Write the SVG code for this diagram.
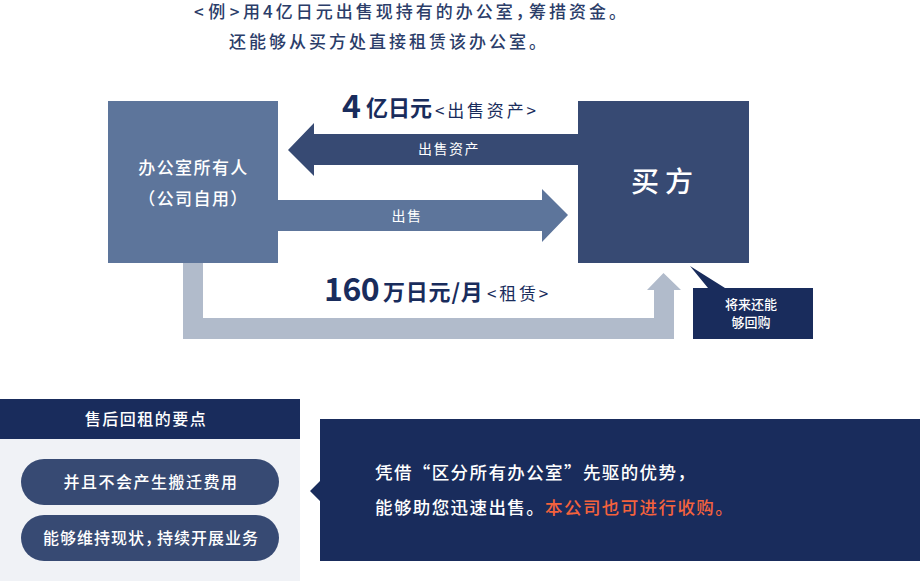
<svg xmlns="http://www.w3.org/2000/svg" width="920" height="581" viewBox="0 0 920 581">
<style>
text{font-family:"Noto Sans CJK SC","Noto Sans",sans-serif;font-weight:500}
.w{fill:#fff}.n{fill:#192c5c}.o{fill:#f4623c}
.top{font-size:17px;letter-spacing:3px;fill:#2b3d69}
.big{font-weight:700;fill:#192c5c}
.sub{font-size:17px;letter-spacing:2.800px;font-weight:400;fill:#192c5c}
.m{text-anchor:middle}
</style>
<rect width="920" height="581" fill="#fff"/>
<g id="intro">
<text class="top" x="194" y="18" style="letter-spacing:4.500px">&lt;例&gt;</text>
<text class="top" x="243" y="18">用4亿日元出售现持有的办公室，<tspan x="529">筹措资金。</tspan></text>
<text class="top" x="229" y="48">还能够从买方处直接租赁该办公室。</text>
</g>
<g id="connectors">
<path id="sell-assets" fill="#374a73" d="M578 134H314V123L288 150L314 176V165H578Z"/>
<path id="sale" fill="#5d759b" d="M278 200H542V189L568 215L542 242V231H278Z"/>
<path id="lease" fill="#b1bbcb" d="M183 263H203V318H654V290H647L663.500 273L681 290H674V339H183Z"/>
<text class="w m" x="449" y="154" font-size="14" letter-spacing="1.500" style="font-weight:400">出售资产</text>
<text class="w m" x="407" y="221" font-size="14" letter-spacing="1.500" style="font-weight:400">出售</text>
<text class="big" x="342" y="118" font-size="32">4</text>
<text class="big" x="366" y="116" font-size="22">亿日元</text>
<text class="sub" x="435" y="117">&lt;出售资产&gt;</text>
<text class="big" x="324" y="301" font-size="32" letter-spacing="-0.500">160</text>
<text class="big" x="383" y="300" font-size="22" letter-spacing="0.800">万日元/月</text>
<text class="sub" x="487" y="300">&lt;租赁&gt;</text>
</g>
<g id="owner">
<rect x="108" y="101" width="170" height="162" fill="#5d759b"/>
<text class="w m" x="193.500" y="174" font-size="17" letter-spacing="1.400">办公室所有人</text>
<text class="w m" x="193.500" y="205" font-size="17" letter-spacing="1.400">（公司自用）</text>
</g>
<g id="buyer">
<rect x="578" y="101" width="171" height="162" fill="#374a73"/>
<text class="w m" x="665" y="192" font-size="28" letter-spacing="6">买方</text>
</g>
<g id="note">
<path fill="#192c5c" d="M690 266L725 288H813V339H693V288H708Z"/>
<text class="w m" x="751" y="309" font-size="13">将来还能</text>
<text class="w m" x="751" y="327" font-size="13">够回购</text>
</g>
<g id="points">
<rect x="0" y="439" width="300" height="142" fill="#f0f2f6"/>
<rect x="0" y="399" width="300" height="40" fill="#192c5c"/>
<text class="w m" x="146" y="425" font-size="16" letter-spacing="1.500">售后回租的要点</text>
</g>
<g id="point-1">
<rect x="21" y="459" width="258" height="46" rx="23" fill="#374a73"/>
<text class="w m" x="151" y="488" font-size="16" letter-spacing="1.500">并且不会产生搬迁费用</text>
</g>
<g id="point-2">
<rect x="21" y="515" width="258" height="46" rx="23" fill="#374a73"/>
<text class="w" x="43" y="544" font-size="16" letter-spacing="1">能够维持现状，<tspan x="157">持续开展业务</tspan></text>
</g>
<g id="summary">
<path fill="#192c5c" d="M320 419H920V561H320V501L310 491L320 481Z"/>
<text class="w" x="375" y="479" font-size="17.500" letter-spacing="1.400">凭借“区分所有办公室”先驱的优势，</text>
<text class="w" x="375" y="514" font-size="17.500" letter-spacing="1.400">能够助您迅速出售。<tspan class="o">本公司也可进行收购。</tspan></text>
</g>
</svg>
